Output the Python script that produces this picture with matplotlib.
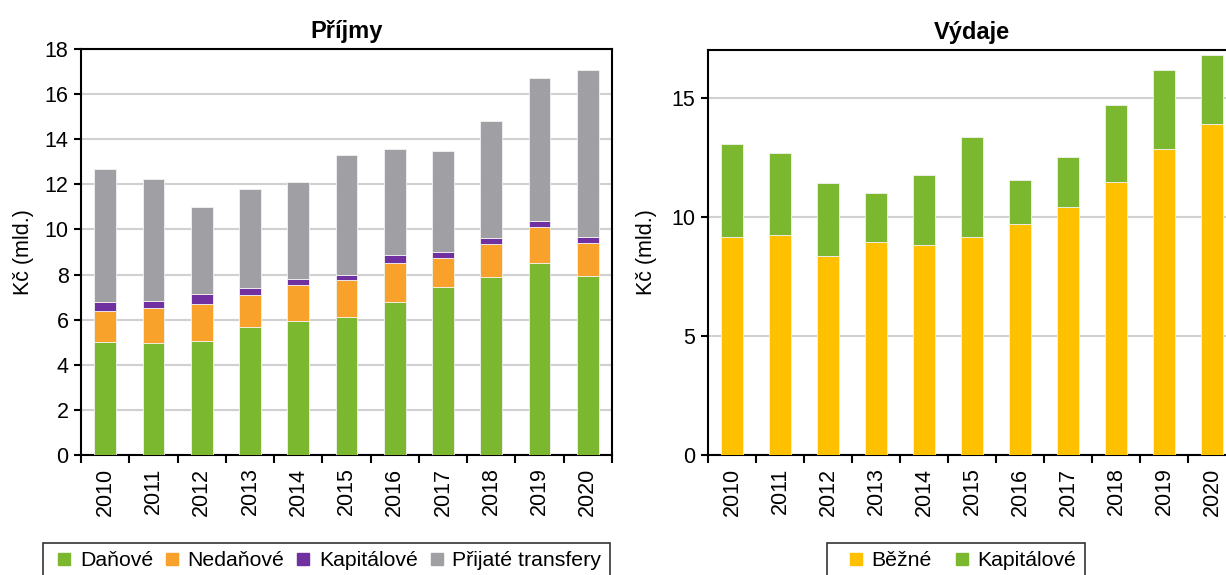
import numpy as np
import matplotlib
matplotlib.use('Agg')
import matplotlib.pyplot as plt
from matplotlib.lines import Line2D

plt.rcParams['font.family'] = ['Liberation Sans', 'DejaVu Sans']

years = ['2010', '2011', '2012', '2013', '2014', '2015', '2016', '2017', '2018', '2019', '2020']

# Příjmy (mld. Kč)
danove = [5.01, 4.98, 5.05, 5.69, 5.95, 6.12, 6.79, 7.44, 7.91, 8.53, 7.94]
nedanove = [1.36, 1.55, 1.63, 1.40, 1.58, 1.64, 1.71, 1.30, 1.46, 1.58, 1.45]
kapitalove_prij = [0.41, 0.29, 0.45, 0.31, 0.27, 0.24, 0.37, 0.24, 0.23, 0.27, 0.26]
transfery = [5.90, 5.42, 3.87, 4.41, 4.32, 5.29, 4.70, 4.52, 5.20, 6.33, 7.42]

# Výdaje (mld. Kč)
bezne = [9.17, 9.24, 8.36, 8.95, 8.81, 9.17, 9.68, 10.42, 11.47, 12.83, 13.91]
kapitalove_vyd = [3.88, 3.44, 3.05, 2.05, 2.95, 4.18, 1.86, 2.10, 3.22, 3.35, 2.88]

prijmy_labels = ['Daňové', 'Nedaňové', 'Kapitálové', 'Přijaté transfery']
prijmy_colors = ['#7cb82f', '#f8a12b', '#7030a0', '#a09fa4']
vydaje_labels = ['Běžné', 'Kapitálové']
vydaje_colors = ['#ffc000', '#7cb82f']

fs = 15.5
W, H = 1226, 575
fig = plt.figure(figsize=(W / 100, H / 100), dpi=100)
ax1 = fig.add_axes([81 / W, 1 - 455 / H, 531 / W, 406 / H])
ax2 = fig.add_axes([708 / W, 1 - 455 / H, 528 / W, 405 / H])

x = np.arange(len(years))
bw = 0.45


def stack(ax, series, colors, labels):
    bottom = np.zeros(len(years))
    for vals, c, lab in zip(series, colors, labels):
        ax.bar(x, vals, bw, bottom=bottom, color=c, label=lab,
               edgecolor='#f2f2f2', linewidth=0.6, zorder=3)
        bottom += np.array(vals)


def style(ax, ymax, step, title):
    ax.set_xlim(-0.5, len(years) - 0.5)
    ax.set_ylim(0, ymax)
    ax.set_yticks(np.arange(0, ymax + 0.01, step))
    ax.yaxis.grid(True, color='#d0d0d0', linewidth=1.5, zorder=0)
    ax.set_axisbelow(True)
    ax.set_xticks(x)
    ax.set_xticklabels(years, rotation=90, fontsize=fs)
    ax.set_xticks(np.arange(-0.5, len(years), 1), minor=True)
    ax.tick_params(axis='x', which='major', length=0, pad=9)
    ax.tick_params(axis='x', which='minor', length=6, width=1.5, direction='out')
    ax.tick_params(axis='y', length=5, width=1.5, direction='out', labelsize=fs, pad=4)
    for s in ax.spines.values():
        s.set_linewidth(1.5)
        s.set_color('black')
    ax.set_ylabel('Kč (mld.)', fontsize=fs)
    ax.set_title(title, fontsize=17, fontweight='bold', pad=8)


stack(ax1, [danove, nedanove, kapitalove_prij, transfery], prijmy_colors, prijmy_labels)
style(ax1, 18, 2, 'Příjmy')
ax1.yaxis.set_label_coords(-0.088, 0.5)

stack(ax2, [bezne, kapitalove_vyd], vydaje_colors, vydaje_labels)
style(ax2, 17, 5, 'Výdaje')
ax2.yaxis.set_label_coords(-0.097, 0.5)


def squares(colors):
    return [Line2D([], [], linestyle='none', marker='s', markersize=8,
                   markerfacecolor=c, markeredgecolor=c) for c in colors]


leg_fs = 15.3
leg_kw = dict(fontsize=leg_fs, frameon=True, fancybox=False, edgecolor='black',
              borderpad=0.4, borderaxespad=0, loc='upper left')
l1 = fig.legend(squares(prijmy_colors), prijmy_labels, ncol=4,
                handlelength=1.2, handletextpad=0.14, columnspacing=0.28,
                bbox_to_anchor=(43 / W, 1 - 543 / H), **leg_kw)
l2 = fig.legend(squares(vydaje_colors), vydaje_labels, ncol=2,
                handlelength=1.9, handletextpad=-0.21, columnspacing=0.45,
                bbox_to_anchor=(827 / W, 1 - 543 / H), **leg_kw)
for l in (l1, l2):
    l.get_frame().set_linewidth(1.2)

fig.savefig('out.png', dpi=100)
